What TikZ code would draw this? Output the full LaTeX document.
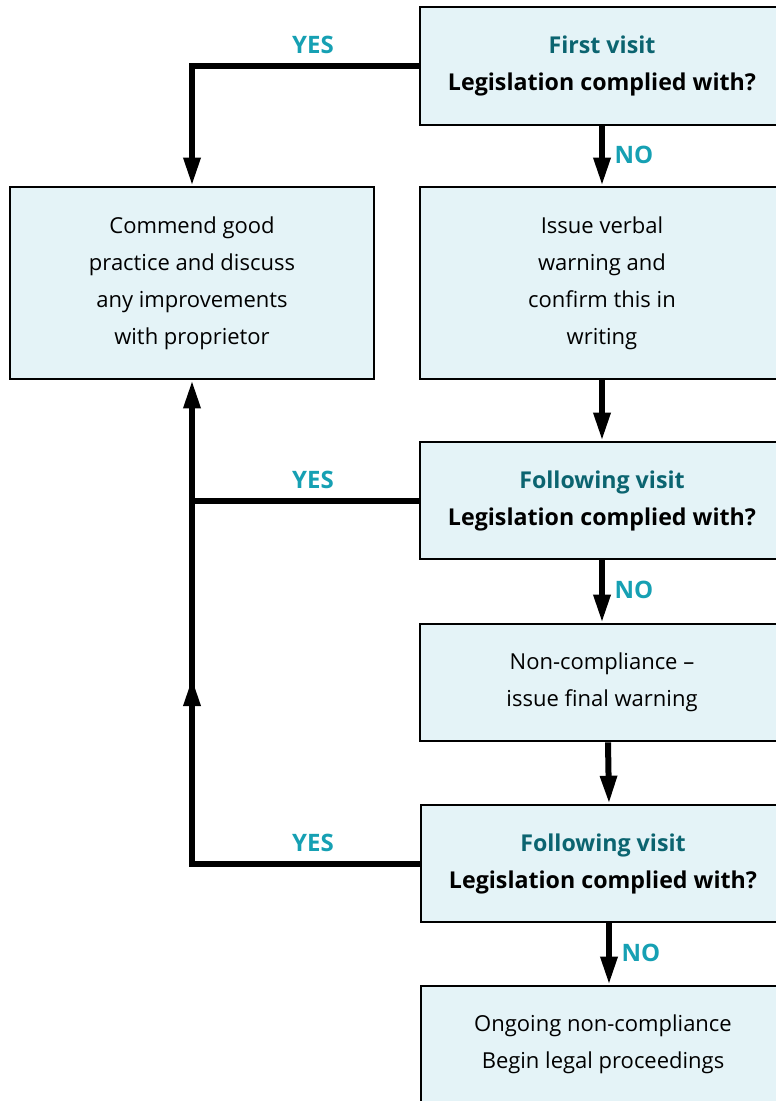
\documentclass[tikz,border=0pt]{standalone}
\usepackage{fontspec}
\setmainfont{Open Sans}
\usetikzlibrary{arrows.meta,calc}
\definecolor{boxfill}{HTML}{E4F3F7}
\definecolor{titlecol}{HTML}{0B6470}
\definecolor{yescol}{HTML}{16A0B3}
\newcommand{\qfont}{\fontsize{23.2}{37}\selectfont\bfseries}
\tikzset{
  box/.style={draw=black, line width=2.6pt, fill=boxfill, rectangle, align=center,
    minimum width=364pt, inner sep=0pt, font=\fontsize{22}{37}\selectfont},
  qbox/.style={box, font=\qfont},
  conn/.style={line width=6pt, draw=black},
  arr/.style={conn, -{Triangle[length=28pt,width=16pt]}},
  lab/.style={font=\fontsize{24}{26}\selectfont\bfseries, text=yescol},
}
\begin{document}
\begin{tikzpicture}[x=1pt,y=-1pt]
\useasboundingbox (0,0) rectangle (776,1101);
\clip (0,0) rectangle (776,1101);
\node[qbox, minimum height=118pt] (b1) at (602,66)
  {\textcolor{titlecol}{First visit}\\Legislation complied with?};
\node[box, minimum height=192pt] (b2) at (602,283)
  {Issue verbal\\warning and\\confirm this in\\writing};
\node[box, minimum height=192pt] (b3) at (192,283)
  {Commend good\\practice and discuss\\any improvements\\with proprietor};
\node[qbox, minimum height=117pt] (b4) at (602,500.5)
  {\textcolor{titlecol}{Following visit}\\Legislation complied with?};
\node[box, minimum height=117pt] (b5) at (602,682.5)
  {Non-compliance --\\issue final warning};
\node[qbox, minimum height=117pt] (b6) at (603,863.5)
  {\textcolor{titlecol}{Following visit}\\Legislation complied with?};
\node[box, minimum height=117pt] (b7) at (603,1044.5)
  {Ongoing non-compliance\\Begin legal proceedings};
% NO arrows
\draw[arr] (b1.south) -- (b2.north);
\draw[arr] (b2.south) -- (b4.north);
\draw[arr] (b4.south) -- (b5.north);
\draw[arr] ($(b5.south)+(6,0)$) -- ($(b6.north)+(6,0)$);
\draw[arr] ($(b6.south)+(6,0)$) -- ($(b7.north)+(6,0)$);
% YES connectors
\draw[arr] (b1.west) -| (b3.north);
\draw[conn] (b4.west) -- (b4.west -| b3.south);
\draw[arr] (b6.west) -| (b3.south);
\coordinate (mid) at (192,678);
\coordinate (midfoot) at (192,720);
\draw[arr] (midfoot) -- (mid);
% labels
\node[lab] (y1) at (313,45) {YES};
\node[lab] (y2) at (313,480) {YES};
\node[lab] (y3) at (313,843) {YES};
\node[lab] (n1) at (634,155) {NO};
\node[lab] (n2) at (634,590) {NO};
\node[lab] (n3) at (641,953) {NO};
\end{tikzpicture}
\end{document}
